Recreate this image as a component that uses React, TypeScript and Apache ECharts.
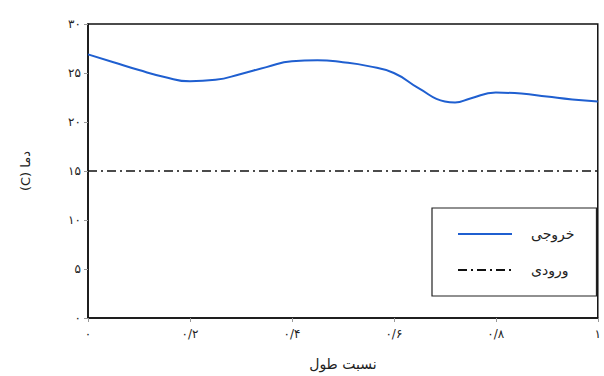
import React, { useEffect, useRef } from "react";
import * as echarts from "echarts";

// Position along the length (ratio) and outlet temperature (°C)
const lengthRatio = [0, 0.05, 0.1, 0.15, 0.2, 0.25, 0.3, 0.35, 0.4, 0.45, 0.5, 0.55, 0.6, 0.65, 0.7, 0.72, 0.75, 0.8, 0.85, 0.9, 0.95, 1.0];
const outletTemp = [26.9, 26.1, 25.3, 24.6, 24.15, 24.3, 24.9, 25.6, 26.2, 26.3, 26.1, 25.7, 25.0, 23.4, 22.1, 22.0, 22.4, 23.0, 22.9, 22.6, 22.3, 22.1];

// Inlet temperature is constant along the length
const inletX = [0, 1];
const inletTemp = [15, 15];

const seriesNames = ["خروجی", "ورودی"];
const xAxisTitle = "نسبت طول";
const yAxisTitle = "(C) دما";

const FONT = "DejaVu Sans";
const persianDigits = "۰۱۲۳۴۵۶۷۸۹";
const toPersian = (v: number) =>
  String(Math.round(v * 10) / 10)
    .replace(".", "/")
    .replace(/[0-9]/g, (d) => persianDigits[Number(d)]);

export default function App() {
  const ref = useRef<HTMLDivElement>(null);

  useEffect(() => {
    if (!ref.current) return;
    const chart = echarts.init(ref.current, undefined, { renderer: "svg" });
    chart.setOption({
      animation: false,
      backgroundColor: "#ffffff",
      textStyle: { fontFamily: FONT },
      grid: {
        left: 88,
        right: 2,
        top: 24,
        bottom: 51,
        show: true,
        borderColor: "#111",
        borderWidth: 1.5,
      },
      legend: {
        orient: "vertical",
        left: 432,
        top: 208,
        itemWidth: 54,
        itemHeight: 12,
        itemGap: 22,
        padding: [19, 22, 19, 25],
        borderColor: "#222",
        borderWidth: 1.2,
        backgroundColor: "#fff",
        itemStyle: { opacity: 0 },
        textStyle: { fontFamily: FONT, fontSize: 14, color: "#222", padding: [0, 0, 0, 14], width: 52 },
        data: seriesNames,
      },
      xAxis: {
        type: "value",
        min: 0,
        max: 1,
        interval: 0.2,
        name: xAxisTitle,
        nameLocation: "middle",
        nameGap: 39,
        nameTextStyle: { fontFamily: FONT, fontSize: 14, color: "#222" },
        axisLine: { show: true, lineStyle: { color: "#111", width: 1.5 } },
        axisTick: { show: true, length: 4, lineStyle: { color: "#999" } },
        axisLabel: {
          formatter: (v: number) => toPersian(v),
          fontFamily: FONT,
          fontSize: 12,
          color: "#222",
          margin: 10,
        },
        splitLine: { show: false },
      },
      yAxis: {
        type: "value",
        min: 0,
        max: 30,
        interval: 5,
        name: yAxisTitle,
        nameLocation: "middle",
        nameGap: 56,
        nameRotate: 90,
        nameTextStyle: { fontFamily: FONT, fontSize: 13, color: "#222" },
        axisLine: { show: true, lineStyle: { color: "#111", width: 1.5 } },
        axisTick: { show: true, length: 4, lineStyle: { color: "#999" } },
        axisLabel: {
          formatter: (v: number) => toPersian(v),
          fontFamily: FONT,
          fontSize: 12,
          color: "#222",
          margin: 7,
        },
        splitLine: { show: false },
      },
      series: [
        {
          name: seriesNames[0],
          type: "line",
          smooth: 0.5,
          symbol: "none",
          data: lengthRatio.map((x, i) => [x, outletTemp[i]]),
          lineStyle: { color: "#1f5fd0", width: 2 },
          itemStyle: { color: "#1f5fd0" },
        },
        {
          name: seriesNames[1],
          type: "line",
          symbol: "none",
          data: inletX.map((x, i) => [x, inletTemp[i]]),
          lineStyle: { color: "#111", width: 1.3, type: [9, 4, 2, 4] },
          itemStyle: { color: "#111" },
        },
      ],
    });
    return () => chart.dispose();
  }, []);

  return <div ref={ref} style={{ width: 604, height: 376, position: "absolute", left: 0, top: 0 }} />;
}
